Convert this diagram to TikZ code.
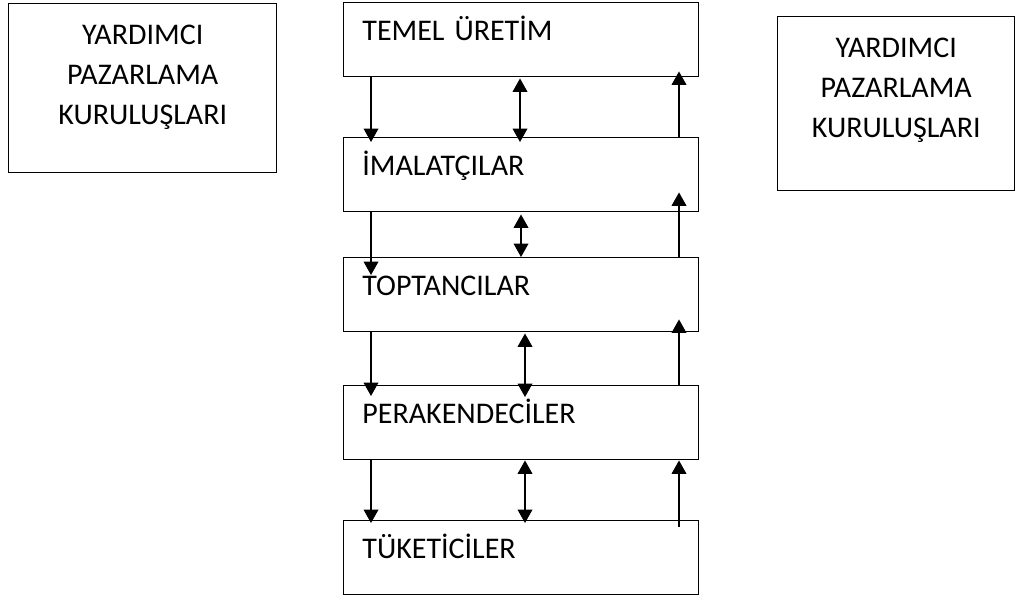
\documentclass[tikz,border=0pt]{standalone}
\usepackage{fontspec}
\setmainfont{Carlito}
\usetikzlibrary{arrows.meta,calc,positioning}

\tikzset{
  level/.style={draw, line width=1.1pt, anchor=north west, align=left,
    inner xsep=14pt, inner ysep=0pt, text width=238.25pt,
    text height=28.5pt, text depth=27pt},
  sidebox/.style={draw, line width=1.1pt, anchor=north west, inner sep=0pt},
  sidetext/.style={align=center, inner sep=0pt},
  flow/.style={line width=1pt, -{Triangle[width=11pt,length=10pt]}},
  both/.style={line width=1pt, {Triangle[width=11pt,length=10pt]}-{Triangle[width=11pt,length=10pt]}}
}

\begin{document}
\begin{tikzpicture}[x=0.75pt, y=-0.75pt, font=\fontsize{22.5pt}{30pt}\selectfont]
    \useasboundingbox (0,0) rectangle (1016,599);

    % Side boxes
    \node[sidebox, minimum width=201pt, minimum height=126.75pt] (yl) at (8,3) {};
    \node[sidetext, below=16.5pt of yl.north] (ylt) {YARDIMCI\\PAZARLAMA\\KURULUŞLARI};
    \node[sidebox, minimum width=177.75pt, minimum height=130.5pt] (yr) at (777,16) {};
    \node[sidetext, below=16.5pt of yr.north] (yrt) {YARDIMCI\\PAZARLAMA\\KURULUŞLARI};

    % Channel levels
    \node[level] (b1) at (343,2) {TEMEL ÜRETİM};
    \node[level] (b2) at (343,137) {İMALATÇILAR};
    \node[level] (b3) at (343,257) {TOPTANCILAR};
    \node[level] (b4) at (343,385) {PERAKENDECİLER};
    \node[level] (b5) at (343,520) {TÜKETİCİLER};

    % Temel uretim - imalatcilar
    \draw[flow] ($(b1.south west)+(28,0)$) -- ($(b2.north west)+(28,5)$);
    \draw[both] ($(b1.south west)+(177,1)$) -- ($(b2.north west)+(177,5)$);
    \draw[flow] ($(b2.north west)+(336,0)$) -- ($(b1.south west)+(336,-6)$);

    % Imalatcilar - toptancilar
    \draw[flow] ($(b2.south west)+(28,0)$) -- ($(b3.north west)+(28,18)$);
    \draw[both] ($(b2.south west)+(178,2)$) -- ($(b3.north west)+(178,0)$);
    \draw[flow] ($(b3.north west)+(336,0)$) -- ($(b2.south west)+(336,-20)$);

    % Toptancilar - perakendeciler
    \draw[flow] ($(b3.south west)+(28,0)$) -- ($(b4.north west)+(28,11)$);
    \draw[both] ($(b3.south west)+(182,1)$) -- ($(b4.north west)+(182,12)$);
    \draw[flow] ($(b4.north west)+(336,0)$) -- ($(b3.south west)+(336,-13)$);

    % Perakendeciler - tuketiciler
    \draw[flow] ($(b4.south west)+(28,0)$) -- ($(b5.north west)+(28,3)$);
    \draw[both] ($(b4.south west)+(182,0)$) -- ($(b5.north west)+(182,3)$);
    \draw[flow] ($(b5.north west)+(336,7)$) -- ($(b4.south west)+(336,0)$);
\end{tikzpicture}
\end{document}
